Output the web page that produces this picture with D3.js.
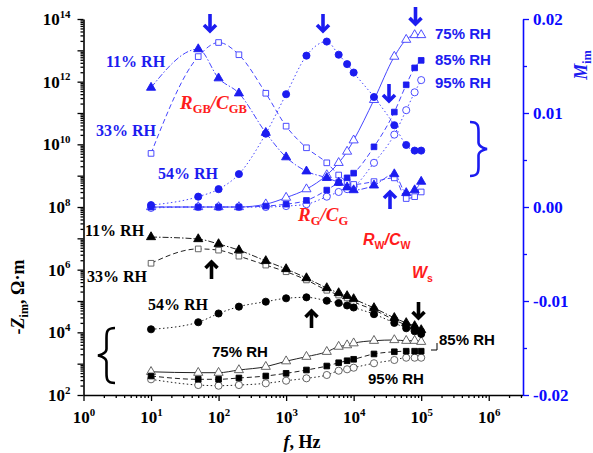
<!DOCTYPE html>
<html>
<head>
<meta charset="utf-8">
<script src="https://cdn.jsdelivr.net/npm/d3@7"></script>
<style>
  html, body { margin: 0; padding: 0; background: #fff; }
  svg { display: block; }
</style>
</head>
<body>
<script>
// ---------- DATA ----------
const freq = [10, 50, 100, 200, 500, 1000, 2000, 4000, 6000, 8000, 10000, 20000, 40000, 60000, 80000, 100000];
const rhLabels = ["11% RH", "33% RH", "54% RH", "75% RH", "85% RH", "95% RH"];

// -Z_im (Ohm·m), left logarithmic axis
const zim11 = [1.1e7, 9.5e6, 6.6e6, 4.2e6, 1.9e6, 1.05e6, 5.4e5, 2.6e5, 1.8e5, 1.45e5, 1.16e5, 6.0e4, 2.9e4, 2.0e4, 1.6e4, 1.19e4];
const zim33 = [1.6e6, 4.6e6, 4.2e6, 2.7e6, 1.4e6, 8.6e5, 4.7e5, 2.2e5, 1.55e5, 1.25e5, 9.5e4, 5.2e4, 2.5e4, 1.7e4, 1.37e4, 1.05e4];
const zim54 = [1.25e4, 2.1e4, 4.0e4, 6.6e4, 9.5e4, 1.22e5, 1.31e5, 1.02e5, 8.6e4, 7.2e4, 6.2e4, 3.8e4, 2.0e4, 1.35e4, 1.08e4, 8.9e3];
const zim75 = [550, 515, 515, 628, 800, 1200, 1670, 2400, 3500, 3900, 4500, 5400, 5700, 5400, 5400, 5000];
const zim85 = [404, 317, 317, 349, 404, 492, 628, 841, 1070, 1240, 1380, 2040, 2400, 2500, 2500, 2500];
const zim95 = [317, 208, 198, 208, 236, 286, 341, 435, 596, 661, 743, 1030, 1310, 1550, 1550, 1550];

// M_im, right linear axis
const mim11 = [0.0127, 0.0168, 0.0137, 0.0121, 0.0079, 0.0053, 0.0038, 0.0031, 0.0026, 0.0021, 0.0018, 0.0023, 0.0035, 0.0015, 0.0018, 0.0027];
const mim33 = [0.0057, 0.0160, 0.0175, 0.0162, 0.0121, 0.0086, 0.0063, 0.0047, 0.0034, 0.0027, 0.0024, 0.0027, 0.0031, 0.0009, 0.0011, 0.0016];
const mim54 = [0.0002, 0.0011, 0.0019, 0.0035, 0.0078, 0.0120, 0.0161, 0.0176, 0.0162, 0.0152, 0.0143, 0.0117, 0.0087, 0.0066, 0.0060, 0.0060];
const mim75 = [0, 0, 0, 0, 0.0003, 0.0010, 0.0019, 0.0034, 0.0047, 0.0059, 0.0071, 0.0114, 0.0160, 0.0178, 0.0183, 0.0183];
const mim85 = [0, 0, 0, 0, 0.0001, 0.0003, 0.0007, 0.0018, 0.0026, 0.0031, 0.0036, 0.0064, 0.0101, 0.0130, 0.0148, 0.0156];
const mim95 = [-0.0001, 0, 0, 0, 0, 0.0001, 0.0003, 0.0011, 0.0016, 0.0019, 0.0022, 0.0047, 0.0077, 0.0103, 0.0122, 0.0135];

// axis ticks
const xMajorExp = [0, 1, 2, 3, 4, 5, 6];
const yLeftMajorExp = [2, 3, 4, 5, 6, 7, 8, 9, 10, 11, 12, 13, 14];
const yRightTicks = [-0.02, -0.01, 0.00, 0.01, 0.02];
const yRightMinor = [-0.015, -0.005, 0.005, 0.015];

// ---------- STYLE ----------
const BLUE = "#1c1cf0", BLUE_AX = "#0a0aff", BLUE_LINE = "#4646ff", RED = "#ff1c1c";
const SERIF = "'Liberation Serif','Times New Roman',serif";
const SANS = "'Liberation Sans',Arial,sans-serif";
const shapes = ["tri", "sq", "ci", "tri", "sq", "ci"];
const filled = [true, false, true, false, true, false];
const dashes = ["6,2,1.5,2", "5,3", "1.5,2.5", null, "5,3", "1.5,2.5"];

const W = 593, H = 453;
const svg = d3.select("body").append("svg").attr("width", W).attr("height", H);
svg.append("rect").attr("width", W).attr("height", H).attr("fill", "#fff");

const x = d3.scaleLog().domain([1, Math.pow(10, 6.5)]).range([83.5, 522.5]);
const yL = d3.scaleLog().domain([1e2, 1e14]).range([395, 19]);
const yR = d3.scaleLinear().domain([-0.02, 0.02]).range([395, 19]);

// ---------- AXES ----------
function supLabels(g, fs) {
  g.selectAll(".tick text").each(function (d) {
    const t = d3.select(this);
    if (!t.text()) return;
    const e = Math.round(Math.log10(d));
    t.text(null);
    t.append("tspan").text("10");
    t.append("tspan").attr("dy", -fs * 0.42).attr("font-size", fs * 0.64).text(e);
  });
}
function styleAxis(g, color) {
  g.attr("font-family", SERIF).attr("font-size", 17).attr("font-weight", "bold");
  g.selectAll("path.domain").attr("stroke", color).attr("stroke-width", 1.6);
  g.selectAll(".tick line").attr("stroke", color).attr("stroke-width", 1.3);
  g.selectAll(".tick text").attr("fill", color);
}

// x axis
const xMajor = xMajorExp.map(e => Math.pow(10, e));
const xMinor = [];
xMajorExp.forEach(e => { for (let m = 2; m <= 9; m++) { const v = m * Math.pow(10, e); if (v <= Math.pow(10, 6.5)) xMinor.push(v); } });
const gxMin = svg.append("g").attr("transform", "translate(0,395)")
  .call(d3.axisBottom(x).tickValues(xMinor).tickSize(3).tickFormat(""));
gxMin.select("path.domain").remove();
styleAxis(gxMin, "#000");
const gx = svg.append("g").attr("transform", "translate(0,395)")
  .call(d3.axisBottom(x).tickValues(xMajor).tickSize(6).tickSizeOuter(0).tickPadding(10).tickFormat(d => "10"));
styleAxis(gx, "#000");
supLabels(gx, 17);

// left axis
const yLMajor = yLeftMajorExp.map(e => Math.pow(10, e));
const yLMinor = [];
yLeftMajorExp.forEach(e => { if (e < 14) for (let m = 2; m <= 9; m++) yLMinor.push(m * Math.pow(10, e)); });
const gyMin = svg.append("g").attr("transform", "translate(83.5,0)")
  .call(d3.axisLeft(yL).tickValues(yLMinor).tickSize(3).tickFormat(""));
gyMin.select("path.domain").remove();
styleAxis(gyMin, "#000");
const gy = svg.append("g").attr("transform", "translate(83.5,0)")
  .call(d3.axisLeft(yL).tickValues(yLMajor).tickSize(6).tickSizeOuter(0).tickPadding(7)
    .tickFormat(d => (Math.round(Math.log10(d)) % 2 === 0 ? "10" : "")));
styleAxis(gy, "#000");
supLabels(gy, 17);

// right axis
const grMin = svg.append("g").attr("transform", "translate(523,0)")
  .call(d3.axisRight(yR).tickValues(yRightMinor).tickSize(4).tickFormat(""));
grMin.select("path.domain").remove();
styleAxis(grMin, BLUE_AX);
const gr = svg.append("g").attr("transform", "translate(523,0)")
  .call(d3.axisRight(yR).tickValues(yRightTicks).tickSize(6).tickSizeOuter(0).tickPadding(4).tickFormat(d => d.toFixed(2)));
styleAxis(gr, BLUE_AX);

// ---------- SERIES ----------
const zSeries = [zim11, zim33, zim54, zim75, zim85, zim95];
const mSeries = [mim11, mim33, mim54, mim75, mim85, mim95];

function symbolFor(s) {
  if (s === "tri") return d3.symbol().type(d3.symbolTriangle).size(36)();
  if (s === "sq") return d3.symbol().type(d3.symbolSquare).size(32)();
  return d3.symbol().type(d3.symbolCircle).size(40)();
}

function drawSeries(vals, yScale, i, lineColor) {
  const pts = freq.map((f, k) => [x(f), yScale(vals[k])]);
  svg.append("path")
    .attr("d", d3.line().curve(d3.curveMonotoneX)(pts))
    .attr("fill", "none").attr("stroke", lineColor).attr("stroke-width", 1)
    .attr("stroke-dasharray", dashes[i]);
  return pts;
}
function drawMarks(pts, i, markColor, openStroke) {
  const g = svg.append("g");
  g.selectAll("path").data(pts).join("path")
    .attr("transform", d => `translate(${d[0]},${d[1]})`)
    .attr("d", symbolFor(shapes[i]))
    .attr("fill", filled[i] ? markColor : "#fff")
    .attr("stroke", filled[i] ? markColor : openStroke)
    .attr("stroke-width", 0.9);
}

// blue M_im curves
const bluePts = mSeries.map((s, i) => drawSeries(s, yR, i, BLUE_LINE));
// black -Z_im curves
const blackPts = zSeries.map((s, i) => drawSeries(s, yL, i, "#222"));
[5, 3, 1, 4, 2, 0].forEach(i => drawMarks(bluePts[i], i, BLUE, "#3a3aff"));
[5, 3, 1, 4, 2, 0].forEach(i => drawMarks(blackPts[i], i, "#000", "#555"));

// ---------- TEXT ----------
function label(t, xx, yy, color, font, size, anchor) {
  svg.append("text").attr("x", xx).attr("y", yy).attr("fill", color)
    .attr("font-family", font).attr("font-size", size).attr("font-weight", "bold")
    .attr("text-anchor", anchor || "start").text(t);
}
// blue RH labels
label(rhLabels[0], 106, 67, BLUE, SERIF, 16);
label(rhLabels[1], 96, 136, BLUE, SERIF, 16);
label(rhLabels[2], 158, 179, BLUE, SERIF, 16);
label(rhLabels[3], 435, 39, BLUE, SANS, 15);
label(rhLabels[4], 435, 65, BLUE, SANS, 15);
label(rhLabels[5], 435, 88, BLUE, SANS, 15);
// black RH labels
label(rhLabels[0], 85, 236, "#000", SERIF, 16);
label(rhLabels[1], 87, 282, "#000", SERIF, 16);
label(rhLabels[2], 148, 310, "#000", SERIF, 16);
label(rhLabels[3], 212, 357, "#000", SANS, 15);
label(rhLabels[4], 439, 345, "#000", SANS, 15);
label(rhLabels[5], 368, 384, "#000", SANS, 15);
svg.append("path").attr("d", "M431,350 H437 V343").attr("fill", "none").attr("stroke", "#000").attr("stroke-width", 1);

// red element labels
function elemLabel(xx, yy, a, sa, b, sb, font, size) {
  const t = svg.append("text").attr("x", xx).attr("y", yy).attr("fill", RED)
    .attr("font-family", font).attr("font-size", size).attr("font-weight", "bold");
  t.append("tspan").attr("font-style", "italic").text(a);
  t.append("tspan").attr("dy", 4).attr("font-size", size * 0.66).text(sa);
  if (b) {
    t.append("tspan").attr("dy", -4).attr("font-style", "italic").text("/" + b);
    t.append("tspan").attr("dy", 4).attr("font-size", size * 0.66).text(sb);
  }
}
elemLabel(180, 109, "R", "GB", "C", "GB", SERIF, 19);
elemLabel(298, 221, "R", "G", "C", "G", SERIF, 19);
elemLabel(363, 245, "R", "W", "C", "W", SANS, 16);
elemLabel(412, 278, "W", "s", null, null, SANS, 16);

// axis titles
const yt = svg.append("text").attr("transform", "translate(24,297) rotate(-90)")
  .attr("text-anchor", "middle").attr("font-family", SERIF).attr("font-size", 18).attr("font-weight", "bold");
yt.append("tspan").text("-");
yt.append("tspan").attr("font-style", "italic").text("Z");
yt.append("tspan").attr("dy", 4).attr("font-size", 12).text("im");
yt.append("tspan").attr("dy", -4).text(", \u03A9\u00B7m");

const rt = svg.append("text").attr("transform", "translate(587,65) rotate(-90)")
  .attr("text-anchor", "middle").attr("fill", BLUE).attr("font-family", SERIF).attr("font-size", 18).attr("font-weight", "bold");
rt.append("tspan").attr("font-style", "italic").text("M");
rt.append("tspan").attr("dy", 4).attr("font-size", 12).text("im");

const xt = svg.append("text").attr("x", 302).attr("y", 448)
  .attr("text-anchor", "middle").attr("font-family", SERIF).attr("font-size", 18).attr("font-weight", "bold");
xt.append("tspan").attr("font-style", "italic").text("f");
xt.append("tspan").text(", Hz");

// ---------- ARROWS ----------
function arrow(cx, y0, y1, color) {
  const dir = y1 > y0 ? 1 : -1;
  svg.append("path").attr("d", `M${cx},${y0} L${cx},${y1 - dir * 1}`)
    .attr("stroke", color).attr("stroke-width", 3.6).attr("fill", "none");
  svg.append("path").attr("d", `M${cx - 6},${y1 - dir * 7} L${cx},${y1 - dir * 1} L${cx + 6},${y1 - dir * 7}`)
    .attr("stroke", color).attr("stroke-width", 3.6).attr("fill", "none").attr("stroke-linejoin", "miter");
}
arrow(210, 14, 32, BLUE);
arrow(323, 14, 32, BLUE);
arrow(389, 84, 102, BLUE);
arrow(415.5, 7, 25, BLUE);
arrow(390, 209, 191, BLUE);
arrow(211.5, 279, 261, "#000");
arrow(311.5, 328, 310, "#000");
arrow(418.5, 302, 319, "#000");

// ---------- BRACES ----------
function brace(xo, xt2, y0, y1, color) {
  const ym = (y0 + y1) / 2, h = y1 - y0, xm = (xo + xt2) / 2;
  const d = `M${xo},${y0} C${xm},${y0} ${xm},${y0 + h * 0.08} ${xm},${y0 + h * 0.18}
    L${xm},${ym - h * 0.12} C${xm},${ym - h * 0.03} ${xt2},${ym} ${xt2},${ym}
    C${xt2},${ym} ${xm},${ym + h * 0.03} ${xm},${ym + h * 0.12}
    L${xm},${y1 - h * 0.18} C${xm},${y1 - h * 0.08} ${xm},${y1} ${xo},${y1}`;
  svg.append("path").attr("d", d).attr("fill", "none").attr("stroke", color).attr("stroke-width", 2.6);
}
brace(470, 487, 122, 176, BLUE);
brace(115, 98, 328, 383, "#000");
</script>
</body>
</html>
